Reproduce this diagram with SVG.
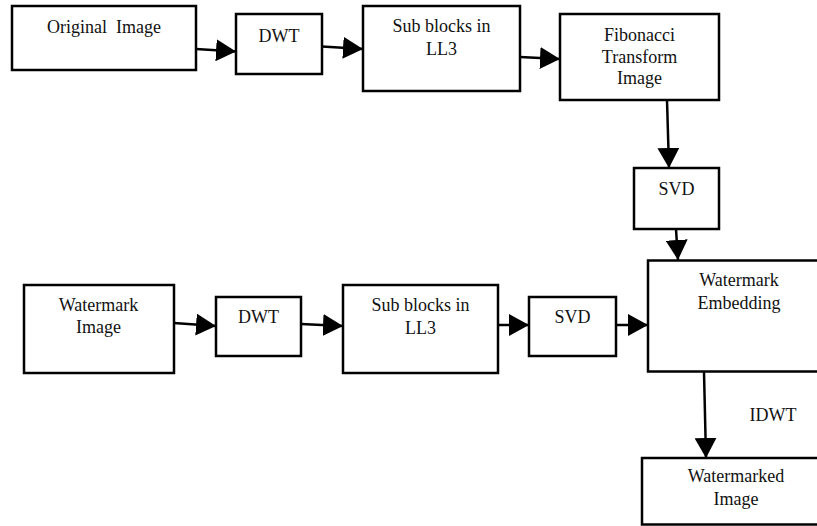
<svg xmlns="http://www.w3.org/2000/svg" width="817" height="526" viewBox="0 0 817 526" font-family="Liberation Serif" font-size="18">
  <style>
    .box { fill: #ffffff; stroke: #000000; stroke-width: 2.5; }
    .lbl { fill: #111111; text-anchor: middle; white-space: pre; }
    .edge { stroke: #000000; stroke-width: 2.5; fill: none; marker-end: url(#arrow); }
  </style>
  <defs>
    <marker id="arrow" markerUnits="userSpaceOnUse" markerWidth="20" markerHeight="22" refX="20" refY="11" orient="auto" viewBox="0 0 20 22">
      <path d="M0,0 L20,11 L0,22 Z" fill="#000000"/>
    </marker>
  </defs>
  <rect width="817" height="526" fill="#ffffff"/>

  <!-- upper row: cover image path -->
  <g id="original-image">
    <rect class="box" x="12" y="6" width="184" height="64"/>
    <text class="lbl" x="104" y="33" xml:space="preserve">Original  Image</text>
  </g>
  <g id="dwt-1">
    <rect class="box" x="236" y="14" width="86" height="60"/>
    <text class="lbl" x="279" y="42">DWT</text>
  </g>
  <g id="sub-blocks-1">
    <rect class="box" x="363" y="6" width="157" height="85"/>
    <text class="lbl" x="441.5" y="32">Sub blocks in</text>
    <text class="lbl" x="441.5" y="54.5">LL3</text>
  </g>
  <g id="fibonacci">
    <rect class="box" x="560" y="14" width="159" height="86"/>
    <text class="lbl" x="639.5" y="41">Fibonacci</text>
    <text class="lbl" x="639.5" y="62.5">Transform</text>
    <text class="lbl" x="639.5" y="84">Image</text>
  </g>
  <g id="svd-1">
    <rect class="box" x="634" y="168" width="85" height="61"/>
    <text class="lbl" x="676.5" y="194.5">SVD</text>
  </g>

  <!-- embedding and output -->
  <g id="embedding">
    <rect class="box" x="648" y="260.5" width="185" height="111"/>
    <text class="lbl" x="739" y="286">Watermark</text>
    <text class="lbl" x="739" y="308.5">Embedding</text>
  </g>
  <g id="watermarked">
    <rect class="box" x="642" y="458" width="185" height="66.5"/>
    <text class="lbl" x="736" y="482">Watermarked</text>
    <text class="lbl" x="736" y="504.5">Image</text>
  </g>

  <!-- lower row: watermark path -->
  <g id="watermark-image">
    <rect class="box" x="24" y="285" width="150" height="88"/>
    <text class="lbl" x="98.5" y="310.5">Watermark</text>
    <text class="lbl" x="98.5" y="333">Image</text>
  </g>
  <g id="dwt-2">
    <rect class="box" x="216" y="297" width="85" height="59"/>
    <text class="lbl" x="258.5" y="322.5">DWT</text>
  </g>
  <g id="sub-blocks-2">
    <rect class="box" x="343" y="285" width="155" height="88"/>
    <text class="lbl" x="420.5" y="311">Sub blocks in</text>
    <text class="lbl" x="420.5" y="334">LL3</text>
  </g>
  <g id="svd-2">
    <rect class="box" x="529" y="297" width="87" height="59"/>
    <text class="lbl" x="572.5" y="322.5">SVD</text>
  </g>

  <!-- connectors -->
  <g id="connectors">
    <line class="edge" x1="196" y1="49" x2="236" y2="51.5"/>
    <line class="edge" x1="322" y1="46.5" x2="363" y2="49"/>
    <line class="edge" x1="520" y1="57" x2="560" y2="59"/>
    <line class="edge" x1="667" y1="100" x2="669" y2="168"/>
    <line class="edge" x1="676" y1="229" x2="678" y2="260"/>
    <line class="edge" x1="174" y1="323" x2="216" y2="326"/>
    <line class="edge" x1="301" y1="324" x2="343" y2="326"/>
    <line class="edge" x1="498" y1="325" x2="529" y2="325"/>
    <line class="edge" x1="616" y1="325" x2="648" y2="325"/>
    <line class="edge" x1="704" y1="372" x2="706" y2="458"/>
    <text class="lbl" x="773" y="421">IDWT</text>
  </g>
</svg>
